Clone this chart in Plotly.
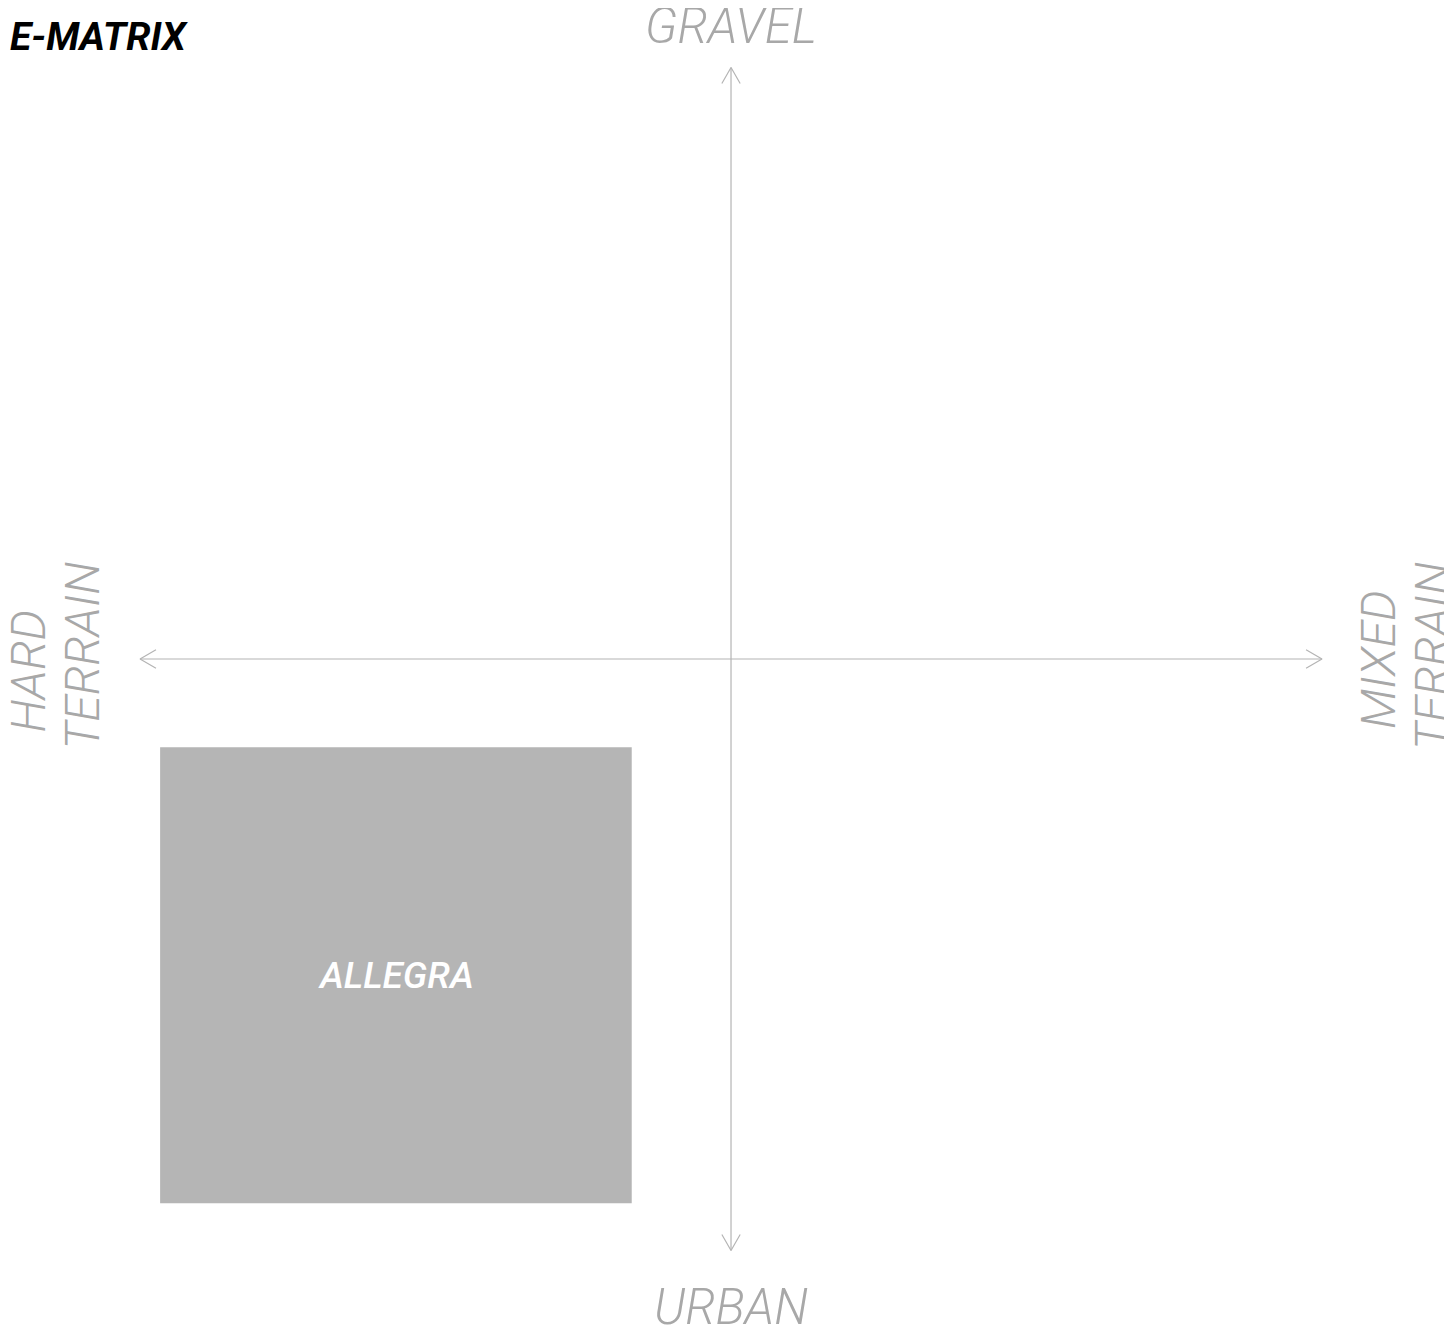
import plotly.graph_objects as go

# ---- data ----
title_text = "E-MATRIX"
top_label = "GRAVEL"
bottom_label = "URBAN"
left_label = ["HARD", "TERRAIN"]
right_label = ["MIXED", "TERRAIN"]
axis_extent = [-1.0, 1.0]          # arrow ends on both axes
bike_names = ["ALLEGRA"]
bike_x0 = [-0.966]
bike_x1 = [-0.168]
bike_y0 = [-0.920]
bike_y1 = [-0.149]

# ---- style ----
LINE = "#b4b4b4"
TEXT = "#a8a8a8"
BOX = "#b5b5b5"
HEAD_L = 0.027
HEAD_W = 0.0155

fig = go.Figure()

lo, hi = axis_extent
line_style = dict(color=LINE, width=1.2)
# horizontal axis with open arrowheads
fig.add_trace(go.Scatter(x=[lo, hi], y=[0, 0], mode="lines", line=line_style, hoverinfo="skip"))
fig.add_trace(go.Scatter(x=[lo + HEAD_L, lo, lo + HEAD_L], y=[HEAD_W, 0, -HEAD_W], mode="lines",
                         line=line_style, hoverinfo="skip"))
fig.add_trace(go.Scatter(x=[hi - HEAD_L, hi, hi - HEAD_L], y=[HEAD_W, 0, -HEAD_W], mode="lines",
                         line=line_style, hoverinfo="skip"))
# vertical axis
fig.add_trace(go.Scatter(x=[0, 0], y=[lo, hi], mode="lines", line=line_style, hoverinfo="skip"))
fig.add_trace(go.Scatter(x=[-HEAD_W, 0, HEAD_W], y=[hi - HEAD_L, hi, hi - HEAD_L], mode="lines",
                         line=line_style, hoverinfo="skip"))
fig.add_trace(go.Scatter(x=[-HEAD_W, 0, HEAD_W], y=[lo + HEAD_L, lo, lo + HEAD_L], mode="lines",
                         line=line_style, hoverinfo="skip"))

# bike boxes
for name, x0, x1, y0, y1 in zip(bike_names, bike_x0, bike_x1, bike_y0, bike_y1):
    fig.add_trace(go.Scatter(x=[x0, x1, x1, x0, x0], y=[y0, y0, y1, y1, y0], mode="lines",
                             fill="toself", fillcolor=BOX, line=dict(width=0, color=BOX),
                             hoverinfo="skip"))
    fig.add_annotation(x=(x0 + x1) / 2, y=(y0 + y1) / 2, text=name, showarrow=False,
                       font=dict(family="Roboto", size=37, color="white", weight=500, style="italic"))

lab_font = dict(family="Roboto", size=49, color=TEXT, weight=300, style="italic")
rot_font = dict(family="Roboto", size=48, color=TEXT, weight=300, style="italic")
fig.add_annotation(x=0, y=1.069, text=top_label, showarrow=False, font=lab_font)
fig.add_annotation(x=0, y=-1.097, text=bottom_label, showarrow=False, font=lab_font)
fig.add_annotation(x=-1.1895, y=-0.0211, text=left_label[0], showarrow=False, font=rot_font, textangle=-90)
fig.add_annotation(x=-1.0981, y=0.0059, text=left_label[1], showarrow=False, font=rot_font, textangle=-90)
fig.add_annotation(x=1.0948, y=-0.0017, text=right_label[0], showarrow=False, font=rot_font, textangle=-90)
fig.add_annotation(x=1.1861, y=0.0051, text=right_label[1], showarrow=False, font=rot_font, textangle=-90)

fig.add_annotation(xref="paper", yref="paper", x=0.0, y=0.9782, xanchor="left", yanchor="middle",
                   text=title_text, showarrow=False,
                   font=dict(family="Roboto", size=39, color="black", weight=700, style="italic"))

fig.update_layout(
    width=1452, height=1329, autosize=False,
    margin=dict(l=0, r=0, t=0, b=0),
    paper_bgcolor="white", plot_bgcolor="white",
    showlegend=False,
    xaxis=dict(range=[-1.2234, 1.2335], visible=False, fixedrange=True),
    yaxis=dict(range=[-1.1462, 1.1006], visible=False, fixedrange=True),
)

fig.write_html("out.html", config={"displayModeBar": False})
